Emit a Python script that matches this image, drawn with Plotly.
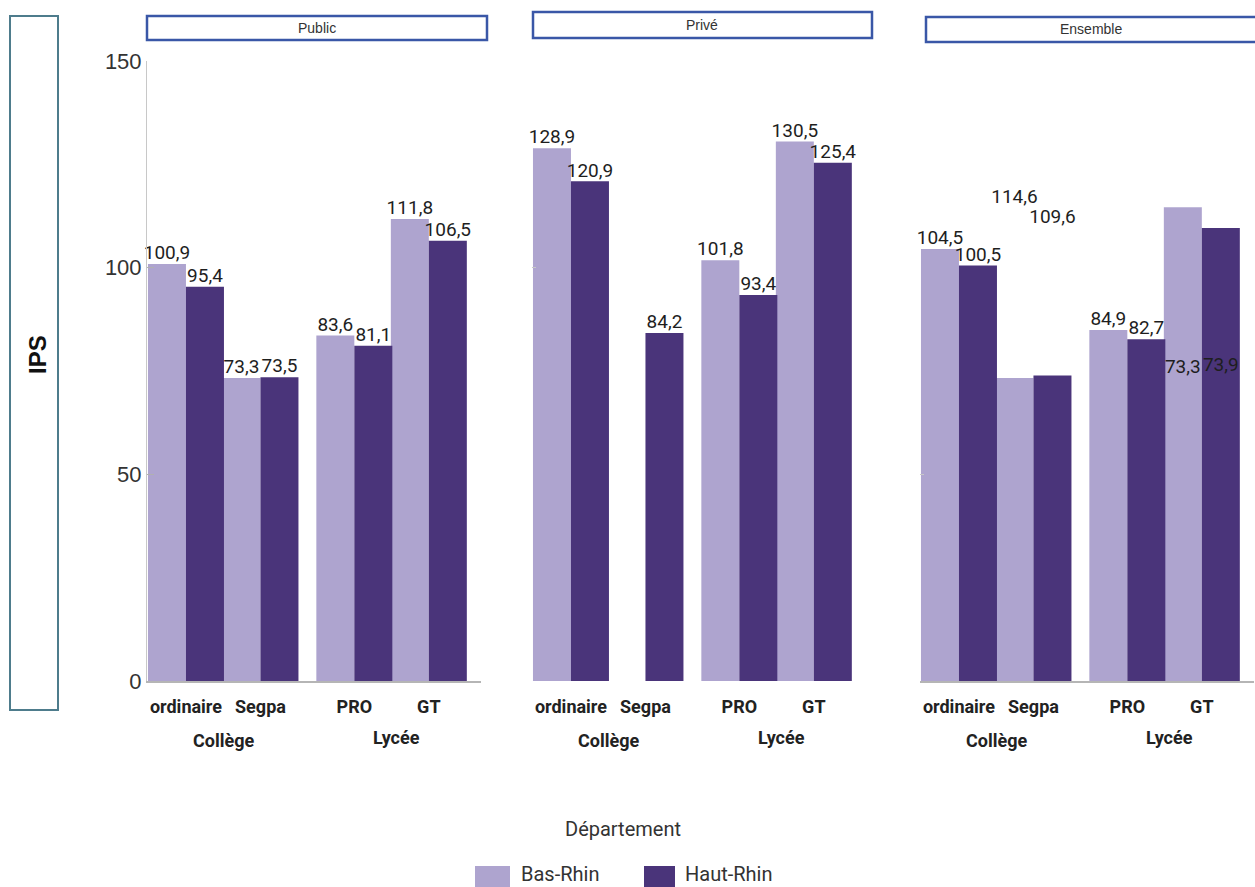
import plotly.graph_objects as go

# ---------------- data ----------------
categories = ["ordinaire", "Segpa", "PRO", "GT"]
groups = ["Collège", "Collège", "Lycée", "Lycée"]
panels = ["Public", "Privé", "Ensemble"]

public_bas = [100.9, 73.3, 83.6, 111.8]
public_haut = [95.4, 73.5, 81.1, 106.5]
prive_bas = [128.9, None, 101.8, 130.5]
prive_haut = [120.9, 84.2, 93.4, 125.4]
ensemble_bas = [104.5, 73.3, 84.9, 114.6]
ensemble_haut = [100.5, 73.9, 82.7, 109.6]

# in the source chart the value labels of Segpa and GT are exchanged in "Ensemble"
label_order = {"Public": [0, 1, 2, 3], "Privé": [0, 1, 2, 3], "Ensemble": [0, 3, 2, 1]}

series_names = ["Bas-Rhin", "Haut-Rhin"]
colors = ["#AEA4CF", "#4A347A"]

values = {
    "Public": [public_bas, public_haut],
    "Privé": [prive_bas, prive_haut],
    "Ensemble": [ensemble_bas, ensemble_haut],
}

# ---------------- layout helpers ----------------
W, H = 1255, 887
def px(x):
    return x / W
def py(y):
    return 1 - y / H

GAP = 0.26  # extra space between Collège and Lycée groups
pos = [i + (GAP if groups[i] != groups[0] else 0) for i in range(len(categories))]
BW = 0.51

x_domains = [(147, 481), (532, 866), (920, 1254)]
y_dom = [py(681), py(61)]
xr = [-0.523, -0.523 + 334 / 74.5]

fig = go.Figure()

label_font = dict(family="Roboto, Liberation Sans, sans-serif", size=19, color="#1e1e1e")

def fmt(v):
    return ("%.1f" % v).replace(".", ",")

for pi, panel in enumerate(panels):
    xa = "x" if pi == 0 else "x%d" % (pi + 1)
    ya = "y" if pi == 0 else "y%d" % (pi + 1)
    for si in range(2):
        vals = values[panel][si]
        fig.add_trace(go.Bar(
            x=pos, y=vals, name=series_names[si],
            marker=dict(color=colors[si], line=dict(width=0)),
            width=BW, offset=-BW if si == 0 else 0,
            xaxis=xa, yaxis=ya, showlegend=False,
        ))
    # value labels
    for si in range(2):
        vals = values[panel][si]
        lx, ly, lt = [], [], []
        for ci in range(len(categories)):
            v = vals[label_order[panel][ci]]
            if v is None:
                continue
            lx.append(pos[ci] + (-BW / 2 if si == 0 else BW / 2))
            ly.append(v)
            lt.append(fmt(v))
        fig.add_trace(go.Scatter(
            x=lx, y=ly, text=lt, mode="text", textposition="top center",
            textfont=label_font, xaxis=xa, yaxis=ya, showlegend=False,
            hoverinfo="skip", cliponaxis=False,
        ))

layout = dict(
    width=W, height=H,
    margin=dict(l=0, r=0, t=0, b=0, autoexpand=False),
    paper_bgcolor="white", plot_bgcolor="white",
    barmode="overlay",
    showlegend=False,
    font=dict(family="Liberation Sans, Arial, sans-serif", color="#333"),
)

tick_font = dict(family="Roboto, Liberation Sans, sans-serif", size=18, color="#222", weight="bold")

y_ticks = [[0, 50, 100, 150], [100], [50]]
for pi in range(3):
    k = "" if pi == 0 else str(pi + 1)
    d = x_domains[pi]
    layout["xaxis" + k] = dict(
        domain=[px(d[0]), px(d[1])], range=xr,
        tickmode="array", tickvals=pos, ticktext=categories,
        tickfont=tick_font, ticks="", showgrid=False, zeroline=False,
        showline=True, linecolor=("rgba(0,0,0,0)" if pi == 1 else "#b5b5b5"), linewidth=2,
        anchor="y" + k, fixedrange=True, automargin=False, ticklabelstandoff=8,
    )
    layout["yaxis" + k] = dict(
        domain=y_dom, range=[0, 150],
        tickmode="array", tickvals=y_ticks[pi],
        showticklabels=(pi == 0),
        tickfont=dict(family="Liberation Sans, Arial, sans-serif", size=22, color="#333"),
        ticks="inside", ticklen=7 if pi == 0 else 4, tickcolor="#b0b0b0" if pi == 0 else "#c8c8c8",
        showgrid=False, zeroline=False,
        showline=(pi == 0), linecolor="#c8c8c8", linewidth=1,
        anchor="x" + k, fixedrange=True, automargin=False,
    )

fig.update_layout(**layout)

# group labels (Collège / Lycée)
for pi in range(3):
    k = "" if pi == 0 else str(pi + 1)
    for g in ["Collège", "Lycée"]:
        idx = [i for i in range(len(groups)) if groups[i] == g]
        cx = sum(pos[i] for i in idx) / len(idx)
        fig.add_annotation(
            x=cx, xref="x" + k, y=py(740 if g == "Collège" else 737), yref="paper",
            text=g, showarrow=False, xshift=(0 if g == "Collège" else 5),
            font=tick_font, xanchor="center", yanchor="middle",
        )

# panel strips
strip_boxes = [(147, 16, 487, 40), (533, 12, 872, 38), (926, 17, 1262, 42)]
for (x0, y0, x1, y1), name in zip(strip_boxes, panels):
    fig.add_shape(type="rect", xref="paper", yref="paper",
                  x0=px(x0), x1=px(x1), y0=py(y1), y1=py(y0),
                  line=dict(color="#3A57A7", width=2.5), fillcolor="white", layer="above")
    fig.add_annotation(x=px((x0 + min(x1, W)) / 2), y=py((y0 + y1) / 2), xref="paper", yref="paper",
                       text=name, showarrow=False, xanchor="center", yanchor="middle",
                       font=dict(family="Liberation Sans, Arial, sans-serif", size=14, color="#333"))

# IPS box
fig.add_shape(type="rect", xref="paper", yref="paper",
              x0=px(10), x1=px(58), y0=py(710), y1=py(16),
              line=dict(color="#4E7C8C", width=2), fillcolor="rgba(0,0,0,0)")
fig.add_annotation(x=px(38), y=py(355), xref="paper", yref="paper", text="<b>IPS</b>",
                   textangle=-90, showarrow=False, xanchor="center", yanchor="middle",
                   font=dict(family="Liberation Sans, Arial, sans-serif", size=24, color="#111"))

# legend (manual)
fig.add_annotation(x=px(623), y=py(829), xref="paper", yref="paper", text="Département",
                   showarrow=False, xanchor="center", yanchor="middle",
                   font=dict(family="Roboto, Liberation Sans, sans-serif", size=20, color="#333"))
leg = [(475, 510, 519), (644, 675, 683)]
for (s0, s1, tx), name, col in zip(leg, series_names, colors):
    fig.add_shape(type="rect", xref="paper", yref="paper",
                  x0=px(s0), x1=px(s1), y0=py(890), y1=py(866),
                  line=dict(width=0), fillcolor=col)
    fig.add_annotation(x=px(tx), y=py(874), xref="paper", yref="paper", text=name,
                       showarrow=False, xanchor="left", yanchor="middle",
                       font=dict(family="Roboto, Liberation Sans, sans-serif", size=20, color="#333"))

fig.write_html("out.html")
